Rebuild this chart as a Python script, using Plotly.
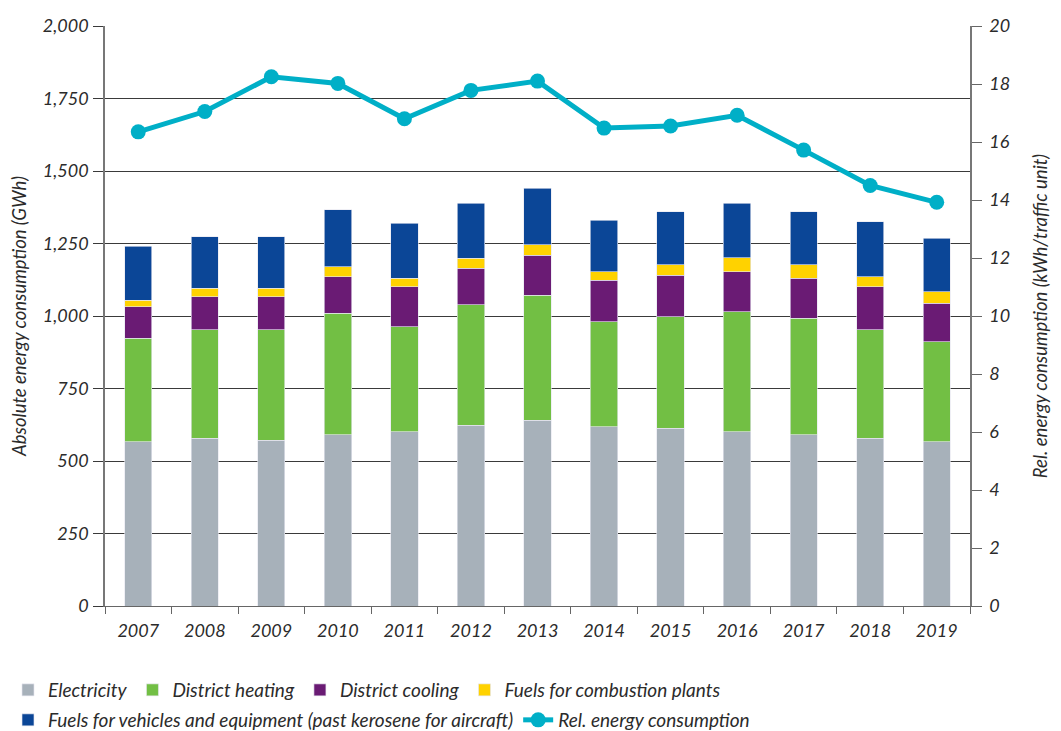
import plotly.graph_objects as go

years = ['2007', '2008', '2009', '2010', '2011', '2012', '2013',
         '2014', '2015', '2016', '2017', '2018', '2019']

# stacked components in GWh
electricity = [567, 578, 572, 590, 601, 624, 641, 618, 613, 601, 590, 578, 566]
district_heating = [356, 374, 380, 419, 362, 414, 431, 362, 385, 414, 402, 374, 345]
district_cooling = [109, 114, 114, 127, 138, 126, 138, 144, 143, 138, 138, 149, 133]
fuels_combustion = [23, 29, 29, 34, 29, 35, 35, 29, 35, 48, 46, 35, 40]
fuels_vehicles = [185, 178, 178, 196, 190, 190, 195, 178, 184, 188, 184, 189, 184]

# relative consumption in kWh/traffic unit
rel_energy = [16.35, 17.05, 18.25, 18.02, 16.8, 17.78, 18.1,
              16.48, 16.55, 16.92, 15.72, 14.5, 13.92]

left_ticks = [0, 250, 500, 750, 1000, 1250, 1500, 1750, 2000]
right_ticks = [0, 2, 4, 6, 8, 10, 12, 14, 16, 18, 20]

FONT = 'Lato'
TXT = '#2b2b2b'

bar_series = [
    ('Electricity', electricity, '#A7B1BA'),
    ('District heating', district_heating, '#72BF44'),
    ('District cooling', district_cooling, '#6A1B74'),
    ('Fuels for combustion plants', fuels_combustion, '#FFD200'),
    ('Fuels for vehicles and equipment (past kerosene for aircraft)', fuels_vehicles, '#0B4697'),
]

fig = go.Figure()
for i, (name, vals, col) in enumerate(bar_series):
    fig.add_trace(go.Bar(
        x=years, y=vals, name=name,
        marker=dict(color=col, line=dict(color='rgba(230,230,240,0.8)', width=0.8)),
        legend='legend' if i < 4 else 'legend2',
    ))

fig.add_trace(go.Scatter(
    x=years, y=rel_energy, name='Rel. energy consumption',
    mode='lines+markers', yaxis='y2',
    line=dict(color='#00AFC7', width=5),
    marker=dict(color='#00AFC7', size=15),
    legend='legend2',
))

tick_font = dict(family=FONT, size=18, color=TXT, style='italic')
title_font = dict(family=FONT, size=18.5, color=TXT, style='italic')
leg_font = dict(family=FONT, size=19, color=TXT, style='italic')

# page body adds ~8px offset, margins compensate for it
fig.update_layout(
    width=1061, height=731,
    barmode='stack', bargap=0.59,
    plot_bgcolor='white', paper_bgcolor='white',
    margin=dict(l=97, r=99, t=18, b=133, autoexpand=False),
    font=dict(family=FONT, size=18, color=TXT, style='italic'),
    showlegend=True,
    xaxis=dict(
        type='category', range=[-0.5, 12.5],
        tickson='boundaries', ticks='outside', ticklen=7, tickcolor='#666',
        showline=True, linecolor='#666', linewidth=1,
        showgrid=False, tickfont=tick_font, ticklabelstandoff=8,
    ),
    yaxis=dict(
        range=[0, 2000], tickvals=left_ticks, tickformat=',',
        showgrid=True, gridcolor='#3a3a3a', gridwidth=1,
        ticks='outside', ticklen=10, tickcolor='#3a3a3a',
        showline=True, linecolor='#777', linewidth=1.5,
        zeroline=False, tickfont=tick_font, ticklabelstandoff=1,
        title=dict(text='Absolute energy consumption (GWh)', font=title_font, standoff=14),
    ),
    yaxis2=dict(
        range=[0, 20], tickvals=right_ticks, overlaying='y', side='right',
        showgrid=False, ticks='outside', ticklen=10, tickcolor='#666',
        showline=True, linecolor='#777', linewidth=1.5,
        zeroline=False, tickfont=tick_font, ticklabelstandoff=4,
        title=dict(text='Rel. energy consumption (kWh/traffic unit)', font=title_font, standoff=25),
    ),
    legend=dict(
        orientation='h', xref='container', yref='container',
        x=0, y=0.067, xanchor='left', yanchor='middle',
        font=leg_font, itemwidth=30, traceorder='normal', bgcolor='rgba(0,0,0,0)',
    ),
    legend2=dict(
        orientation='h', xref='container', yref='container',
        x=0, y=0.026, xanchor='left', yanchor='middle',
        font=leg_font, itemwidth=30, traceorder='normal', bgcolor='rgba(0,0,0,0)',
    ),
)

fig.write_html("out.html")
